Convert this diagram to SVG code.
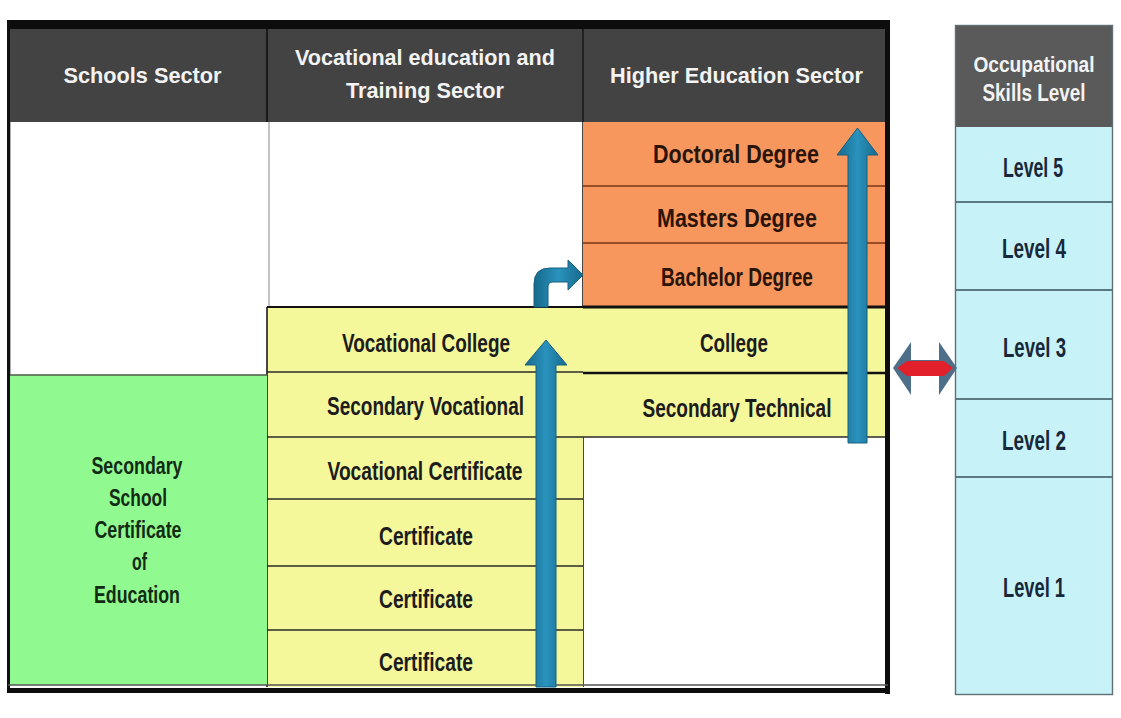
<svg xmlns="http://www.w3.org/2000/svg" width="1121" height="718" viewBox="0 0 1121 718">
<defs>
<style>
.hd{font-family:"Liberation Sans",Arial,sans-serif;font-weight:bold;fill:#f3f3f3;text-anchor:middle;font-size:22px}
.tx{font-family:"Liberation Sans",Arial,sans-serif;font-weight:bold;fill:#1c1c1c;text-anchor:middle;font-size:25px}
.or{fill:#2a1408}
.gr{fill:#132a13;font-size:24px}
.lv{fill:#18283a;font-size:27px}
.rowline{stroke:#2a2a2a;stroke-width:1.6;fill:none}
.orline{stroke:#7a3412;stroke-width:1.4;fill:none}
.lvline{stroke:#37505a;stroke-width:1.6;fill:none}
.arrow{fill:url(#blueGrad);stroke:#16617f;stroke-width:1}
</style>
<linearGradient id="blueGrad" x1="0" y1="0" x2="1" y2="0">
<stop offset="0" stop-color="#17698c"/>
<stop offset="0.5" stop-color="#2a93bd"/>
<stop offset="1" stop-color="#17698c"/>
</linearGradient>
</defs>
<rect x="0" y="0" width="1121" height="718" fill="#ffffff"/>

<g id="table-frame">
<rect x="8" y="28" width="879" height="94" fill="#434343"/>
<rect x="8" y="122" width="879" height="565" fill="#ffffff"/>
<line x1="267" y1="28" x2="267" y2="122" stroke="#111" stroke-width="1.6"/>
<line x1="583" y1="28" x2="583" y2="687" stroke="#1a1a1a" stroke-width="1.6"/>
<line x1="269" y1="122" x2="269" y2="307" stroke="#999" stroke-width="1.2"/>
<line x1="10" y1="122" x2="10" y2="375" stroke="#9a9a9a" stroke-width="1.6"/>
</g>

<g id="header-schools">
<text class="hd" x="142.5" y="83" textLength="158" lengthAdjust="spacingAndGlyphs">Schools Sector</text>
</g>
<g id="header-vocational">
<text class="hd" x="425" y="65" textLength="260" lengthAdjust="spacingAndGlyphs">Vocational education and</text>
<text class="hd" x="425" y="98" textLength="158" lengthAdjust="spacingAndGlyphs">Training Sector</text>
</g>
<g id="header-higher">
<text class="hd" x="736.5" y="83" textLength="253" lengthAdjust="spacingAndGlyphs">Higher Education Sector</text>
</g>

<g id="doctoral-degree">
<rect x="583" y="122" width="304" height="64" fill="#f8975d"/>
<text class="tx or" x="736" y="163" textLength="166" lengthAdjust="spacingAndGlyphs">Doctoral Degree</text>
</g>
<g id="masters-degree">
<rect x="583" y="186" width="304" height="57" fill="#f8975d"/>
<line class="orline" x1="583" y1="186" x2="887" y2="186"/>
<text class="tx or" x="737" y="227" textLength="160" lengthAdjust="spacingAndGlyphs">Masters Degree</text>
</g>
<g id="bachelor-degree">
<rect x="583" y="243" width="304" height="64" fill="#f8975d"/>
<line class="orline" x1="583" y1="243" x2="887" y2="243"/>
<text class="tx or" x="737" y="286" textLength="152" lengthAdjust="spacingAndGlyphs">Bachelor Degree</text>
</g>

<g id="college">
<rect x="583" y="307" width="304" height="66" fill="#f5f79b"/>
<line x1="583" y1="307" x2="887" y2="307" stroke="#111" stroke-width="3"/>
<text class="tx" x="734" y="352" textLength="68" lengthAdjust="spacingAndGlyphs">College</text>
</g>
<g id="secondary-technical">
<rect x="583" y="373" width="304" height="64" fill="#f5f79b"/>
<line x1="583" y1="373" x2="887" y2="373" stroke="#111" stroke-width="2.6"/>
<line class="rowline" x1="583" y1="437" x2="887" y2="437"/>
<text class="tx" x="737" y="417" textLength="189" lengthAdjust="spacingAndGlyphs">Secondary Technical</text>
</g>

<g id="vocational-college">
<rect x="267" y="307" width="316" height="65" fill="#f5f79b"/>
<line x1="267" y1="307" x2="583" y2="307" stroke="#111" stroke-width="2"/>
<text class="tx" x="426" y="352" textLength="168" lengthAdjust="spacingAndGlyphs">Vocational College</text>
</g>
<g id="secondary-vocational">
<rect x="267" y="372" width="316" height="65" fill="#f5f79b"/>
<line class="rowline" x1="267" y1="372" x2="583" y2="372"/>
<text class="tx" x="425.5" y="415" textLength="197" lengthAdjust="spacingAndGlyphs">Secondary Vocational</text>
</g>
<g id="vocational-certificate">
<rect x="267" y="437" width="316" height="62" fill="#f5f79b"/>
<line class="rowline" x1="267" y1="437" x2="583" y2="437"/>
<text class="tx" x="425" y="480" textLength="195" lengthAdjust="spacingAndGlyphs">Vocational Certificate</text>
</g>
<g id="certificate-1">
<rect x="267" y="499" width="316" height="67" fill="#f5f79b"/>
<line class="rowline" x1="267" y1="499" x2="583" y2="499"/>
<text class="tx" x="426" y="545" textLength="94" lengthAdjust="spacingAndGlyphs">Certificate</text>
</g>
<g id="certificate-2">
<rect x="267" y="566" width="316" height="64" fill="#f5f79b"/>
<line class="rowline" x1="267" y1="566" x2="583" y2="566"/>
<text class="tx" x="426" y="608" textLength="94" lengthAdjust="spacingAndGlyphs">Certificate</text>
</g>
<g id="certificate-3">
<rect x="267" y="630" width="316" height="57" fill="#f5f79b"/>
<line class="rowline" x1="267" y1="630" x2="583" y2="630"/>
<text class="tx" x="426" y="671" textLength="94" lengthAdjust="spacingAndGlyphs">Certificate</text>
</g>
<line x1="267" y1="307" x2="267" y2="687" stroke="#1a1a1a" stroke-width="1.6"/>

<g id="secondary-school-certificate">
<rect x="9" y="375" width="258" height="310" fill="#90f98f"/>
<line x1="9" y1="375" x2="267" y2="375" stroke="#4a5a4a" stroke-width="1.4"/>
<text class="tx gr" x="137" y="474" textLength="91" lengthAdjust="spacingAndGlyphs">Secondary</text>
<text class="tx gr" x="138" y="506" textLength="58" lengthAdjust="spacingAndGlyphs">School</text>
<text class="tx gr" x="138" y="538" textLength="87" lengthAdjust="spacingAndGlyphs">Certificate</text>
<text class="tx gr" x="139.5" y="570" textLength="15" lengthAdjust="spacingAndGlyphs">of</text>
<text class="tx gr" x="137" y="603" textLength="86" lengthAdjust="spacingAndGlyphs">Education</text>
</g>

<g id="table-border">
<rect x="7" y="20" width="883" height="9" fill="#0d0d0d"/>
<line x1="8.5" y1="20" x2="8.5" y2="692" stroke="#111" stroke-width="3"/>
<rect x="885" y="20" width="5" height="674" fill="#0d0d0d"/>
<line x1="8" y1="685" x2="888" y2="685" stroke="#555" stroke-width="1.5"/>
<rect x="7" y="688" width="883" height="5" fill="#0d0d0d"/>
</g>

<g id="occupational-header">
<rect x="955" y="25" width="158" height="102" fill="#5a5a5a"/>
<text class="hd" x="1034" y="72" textLength="121" lengthAdjust="spacingAndGlyphs" style="font-size:22px">Occupational</text>
<text class="hd" x="1034" y="101" textLength="103" lengthAdjust="spacingAndGlyphs" style="font-size:23px">Skills Level</text>
</g>
<g id="level-5">
<rect x="955" y="127" width="158" height="75" fill="#c7f3f8"/>
<text class="tx lv" x="1033" y="177" textLength="60" lengthAdjust="spacingAndGlyphs">Level 5</text>
</g>
<g id="level-4">
<rect x="955" y="202" width="158" height="88" fill="#c7f3f8"/>
<line class="lvline" x1="955" y1="202" x2="1113" y2="202"/>
<text class="tx lv" x="1034" y="258" textLength="64" lengthAdjust="spacingAndGlyphs">Level 4</text>
</g>
<g id="level-3">
<rect x="955" y="290" width="158" height="109" fill="#c7f3f8"/>
<line class="lvline" x1="955" y1="290" x2="1113" y2="290"/>
<text class="tx lv" x="1034.5" y="357" textLength="63" lengthAdjust="spacingAndGlyphs">Level 3</text>
</g>
<g id="level-2">
<rect x="955" y="399" width="158" height="78" fill="#c7f3f8"/>
<line class="lvline" x1="955" y1="399" x2="1113" y2="399"/>
<text class="tx lv" x="1034" y="450" textLength="64" lengthAdjust="spacingAndGlyphs">Level 2</text>
</g>
<g id="level-1">
<rect x="955" y="477" width="158" height="218" fill="#c7f3f8"/>
<line class="lvline" x1="955" y1="477" x2="1113" y2="477"/>
<text class="tx lv" x="1034" y="597" textLength="62" lengthAdjust="spacingAndGlyphs">Level 1</text>
</g>
<rect x="955.5" y="25.5" width="157" height="669" fill="none" stroke="#5f6f74" stroke-width="1.4"/>

<g id="connectors">
<polygon class="arrow" points="536,687 536,365 525,365 546,340 567,365 556,365 556,687"/>
<polygon class="arrow" points="848,443 848,155 837,155 857.5,128 878,155 867,155 867,443"/>
<path class="arrow" d="M534,307 L534,284 Q534,268 550,268 L568,268 L568,260 L583,275 L568,290 L568,282 L553,282 Q548,282 548,287 L548,307 Z"/>
<g id="double-arrow">
<polygon points="893,368 911,342 911,360 939,360 939,342 957,368 939,395 939,376 911,376 911,395" fill="#4e6f89"/>
<polygon points="897,368 907,361 944,361 953,368 944,376 907,376" fill="#e2202c"/>
</g>
</g>
</svg>
